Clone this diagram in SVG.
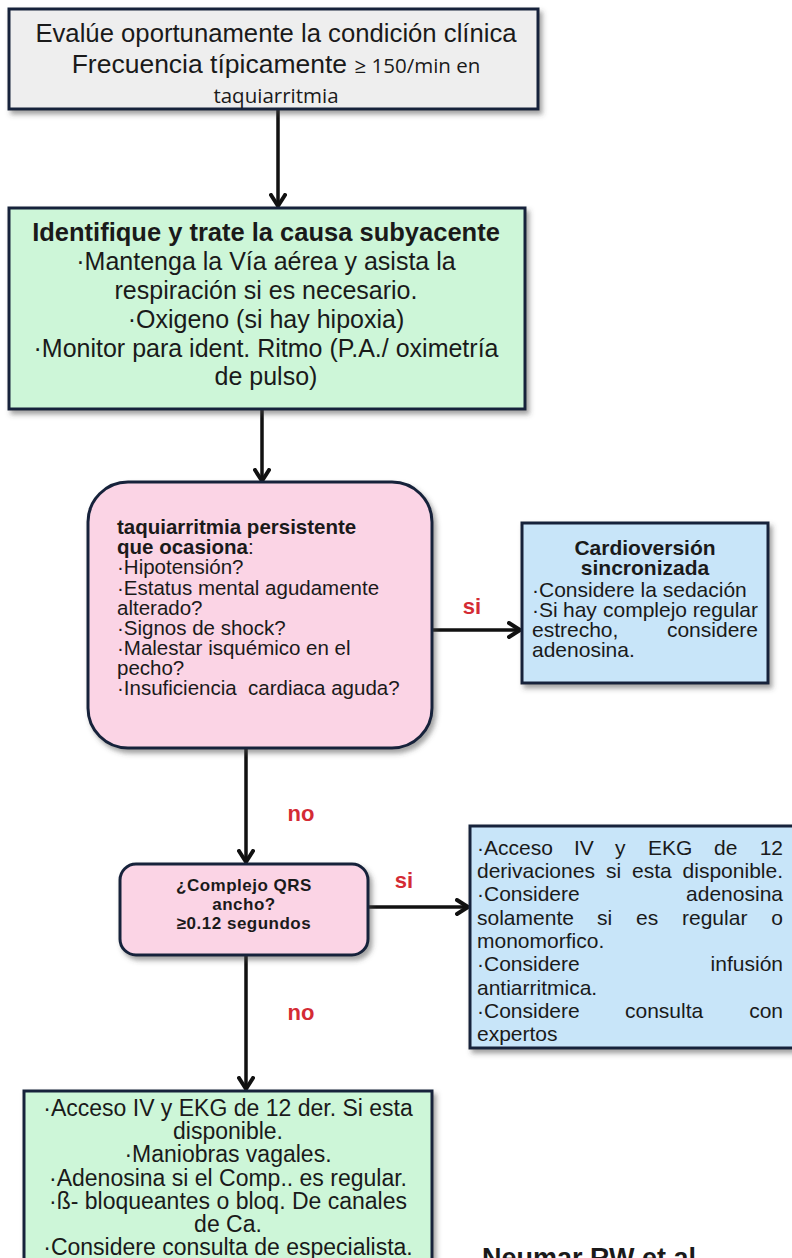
<svg xmlns="http://www.w3.org/2000/svg" width="792" height="1258" viewBox="0 0 792 1258">
  <defs>
    <filter id="shadow" x="-5%" y="-5%" width="115%" height="120%">
      <feDropShadow dx="3" dy="4" stdDeviation="2.5" flood-color="#444" flood-opacity="0.5"/>
    </filter>
    <marker id="head" markerUnits="userSpaceOnUse" viewBox="0 0 16 18" markerWidth="16" markerHeight="18" refX="13" refY="9" orient="auto">
      <path d="M2,2 L13,9 L2,16" fill="none" stroke="#111" stroke-width="4" stroke-linejoin="round" stroke-linecap="round"/>
    </marker>
    <style>
      .box { stroke: #17233b; stroke-width: 3; filter: url(#shadow); }
      .gray { fill: #eeeeee; }
      .green { fill: #cdf6d8; }
      .pink { fill: #fbd4e5; }
      .blue { fill: #c8e5f9; }
      .t { font-family: "Liberation Sans", Arial, Helvetica, sans-serif; fill: #1a1a1a; }
      .os { font-family: "Open Sans", "DejaVu Sans", sans-serif; fill: #1a1a1a; }
      .b { font-weight: bold; }
      .c { text-anchor: middle; }
      .lab { font-family: "Liberation Sans", Arial, sans-serif; font-weight: bold; font-size: 22px; fill: #d42b34; }
      .wire { stroke: #111; stroke-width: 3.5; fill: none; marker-end: url(#head); }
    </style>
  </defs>

  <rect width="792" height="1258" fill="#ffffff"/>

  <!-- connectors -->
  <g id="connectors">
    <line class="wire" x1="278" y1="110" x2="278" y2="206"/>
    <line class="wire" x1="262" y1="409" x2="262" y2="481"/>
    <line class="wire" x1="432" y1="630" x2="520" y2="630"/>
    <line class="wire" x1="246" y1="749" x2="246" y2="862"/>
    <line class="wire" x1="368" y1="907" x2="468" y2="907"/>
    <line class="wire" x1="246" y1="955" x2="246" y2="1089"/>
    <text class="lab c" x="472" y="614">si</text>
    <text class="lab c" x="301" y="821">no</text>
    <text class="lab c" x="404" y="888">si</text>
    <text class="lab c" x="301" y="1020">no</text>
  </g>

  <!-- initial assessment -->
  <g id="node-evaluate">
    <rect class="box gray" x="9" y="9" width="529" height="100"/>
    <text class="t c" x="276" y="42" font-size="25.7">Evalúe oportunamente la condición clínica</text>
    <text class="t c" x="276" y="73" font-size="26.5">Frecuencia típicamente <tspan class="os" font-size="20.5">≥ 150/min en</tspan></text>
    <text class="os c" x="276" y="103" font-size="20.5">taquiarritmia</text>
  </g>

  <!-- underlying cause -->
  <g id="node-cause">
    <rect class="box green" x="9" y="208" width="516" height="201"/>
    <text class="t b c" x="266" y="241" font-size="25.5">Identifique y trate la causa subyacente</text>
    <text class="t c" x="266" y="270" font-size="25">·Mantenga la Vía aérea y asista la</text>
    <text class="t c" x="266" y="299" font-size="25">respiración si es necesario.</text>
    <text class="t c" x="266" y="328" font-size="25">·Oxigeno (si hay hipoxia)</text>
    <text class="t c" x="266" y="357" font-size="25">·Monitor para ident. Ritmo (P.A./ oximetría</text>
    <text class="t c" x="266" y="385" font-size="25">de pulso)</text>
  </g>

  <!-- persistent tachyarrhythmia decision -->
  <g id="node-persistent">
    <rect class="box pink" x="88" y="482" width="344" height="266" rx="40" ry="40"/>
    <g class="t" font-size="20.5">
      <text x="117" y="534" class="b">taquiarritmia persistente</text>
      <text x="117" y="554"><tspan class="b">que ocasiona</tspan>:</text>
      <text x="117" y="574">·Hipotensión?</text>
      <text x="117" y="595">·Estatus mental agudamente</text>
      <text x="117" y="615">alterado?</text>
      <text x="117" y="635">·Signos de shock?</text>
      <text x="117" y="655">·Malestar isquémico en el</text>
      <text x="117" y="675">pecho?</text>
      <text x="117" y="695">·Insuficiencia&#160; cardiaca aguda?</text>
    </g>
  </g>

  <!-- synchronized cardioversion -->
  <g id="node-cardioversion">
    <rect class="box blue" x="522" y="523" width="246" height="160"/>
    <g class="t" font-size="21">
      <text x="645" y="555" class="b c">Cardioversión</text>
      <text x="645" y="575" class="b c">sincronizada</text>
      <text x="532" y="597">·Considere la sedación</text>
      <text y="617"><tspan x="532">·Si</tspan><tspan x="563">hay</tspan><tspan x="603">complejo</tspan><tspan x="758" text-anchor="end">regular</tspan></text>
      <text y="637"><tspan x="532">estrecho,</tspan><tspan x="758" text-anchor="end">considere</tspan></text>
      <text x="532" y="657">adenosina.</text>
    </g>
  </g>

  <!-- wide QRS decision -->
  <g id="node-qrs">
    <rect class="box pink" x="120" y="864" width="248" height="91" rx="16" ry="16"/>
    <g class="t b c" font-size="17" letter-spacing="0.5">
      <text x="244" y="891">¿Complejo QRS</text>
      <text x="244" y="910">ancho?</text>
      <text x="244" y="929">≥0.12 segundos</text>
    </g>
  </g>

  <!-- wide QRS management -->
  <g id="node-wide">
    <rect class="box blue" x="470" y="826" width="340" height="222"/>
    <g class="t" font-size="21">
      <text y="855"><tspan x="477">·Acceso</tspan><tspan x="574">IV</tspan><tspan x="615">y</tspan><tspan x="648">EKG</tspan><tspan x="714">de</tspan><tspan x="783" text-anchor="end">12</tspan></text>
      <text y="878"><tspan x="477">derivaciones</tspan><tspan x="606">si</tspan><tspan x="632">esta</tspan><tspan x="783" text-anchor="end">disponible.</tspan></text>
      <text y="901"><tspan x="477">·Considere</tspan><tspan x="783" text-anchor="end">adenosina</tspan></text>
      <text y="925"><tspan x="477">solamente</tspan><tspan x="597">si</tspan><tspan x="636">es</tspan><tspan x="682">regular</tspan><tspan x="783" text-anchor="end">o</tspan></text>
      <text x="477" y="948">monomorfico.</text>
      <text y="971"><tspan x="477">·Considere</tspan><tspan x="783" text-anchor="end">infusión</tspan></text>
      <text x="477" y="995">antiarritmica.</text>
      <text y="1018"><tspan x="477">·Considere</tspan><tspan x="625">consulta</tspan><tspan x="783" text-anchor="end">con</tspan></text>
      <text x="477" y="1041">expertos</text>
    </g>
  </g>

  <!-- narrow QRS management -->
  <g id="node-narrow">
    <rect class="box green" x="24" y="1091" width="408" height="190"/>
    <g class="t c" font-size="23">
      <text x="228" y="1116">·Acceso IV y EKG de 12 der. Si esta</text>
      <text x="228" y="1139">disponible.</text>
      <text x="228" y="1162">·Maniobras vagales.</text>
      <text x="228" y="1186">·Adenosina si el Comp.. es regular.</text>
      <text x="228" y="1209">·ß- bloqueantes o bloq. De canales</text>
      <text x="228" y="1232">de Ca.</text>
      <text x="228" y="1255">·Considere consulta de especialista.</text>
    </g>
  </g>

  <!-- reference -->
  <text class="t b" x="482" y="1267" font-size="27">Neumar RW et al</text>
</svg>
